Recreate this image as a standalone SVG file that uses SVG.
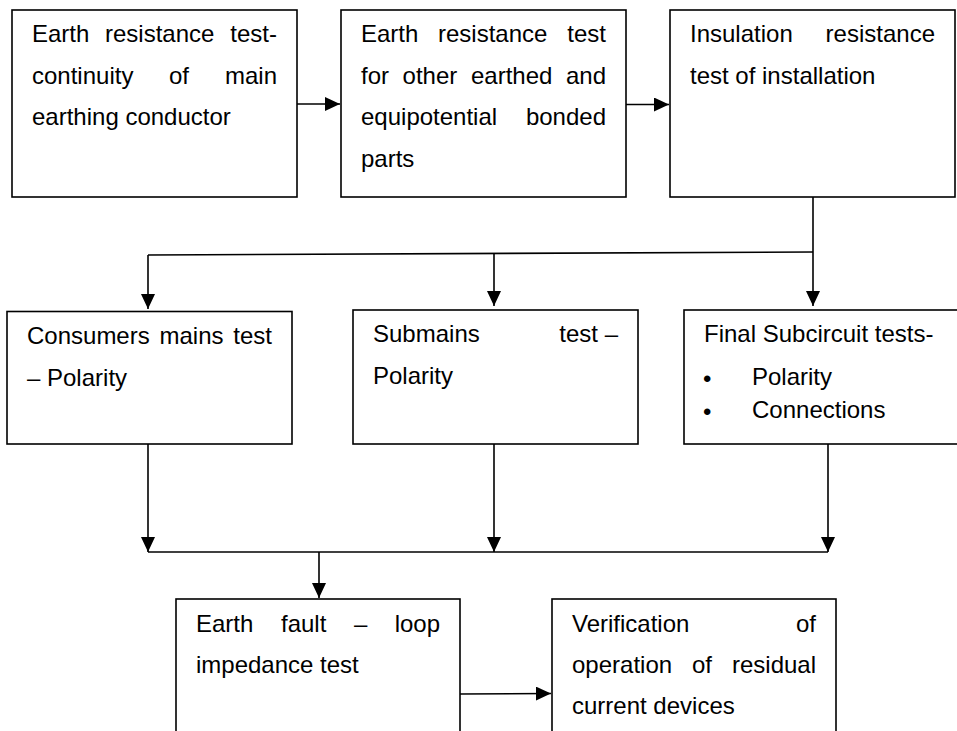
<svg xmlns="http://www.w3.org/2000/svg" width="957" height="731" viewBox="0 0 957 731">
<defs>
<marker id="ah" markerUnits="userSpaceOnUse" markerWidth="15" markerHeight="14" refX="15" refY="7" orient="auto">
<path d="M0,0 L15,7 L0,14 z" fill="#000"/>
</marker>
<style>
.box{fill:#fff;stroke:#000;stroke-width:1.6}
.t{font-family:"Liberation Sans",Arial,sans-serif;font-size:24px;fill:#000}
.c{fill:none;stroke:#000;stroke-width:1.6}
.a{marker-end:url(#ah)}
</style>
</defs>
<rect width="957" height="731" fill="#fff"/>
<g id="connectors">
<path class="c a" d="M297,104 H340"/>
<path class="c a" d="M626,104.5 H669"/>
<path class="c a" d="M813,197 V306"/>
<path class="c" d="M813,252 L148,255"/>
<path class="c a" d="M148,255 V309"/>
<path class="c a" d="M494,253.5 V306"/>
<path class="c a" d="M148,444 V552"/>
<path class="c a" d="M494,444 V552"/>
<path class="c a" d="M828,444 V552"/>
<path class="c" d="M148,552 H828"/>
<path class="c a" d="M319,552 V598"/>
<path class="c a" d="M460,694 L551,693.5"/>
</g>
<g id="n1">
<rect class="box" x="12" y="10" width="285" height="187"/>
<text class="t"><tspan x="32" y="42">Earth</tspan><tspan x="105" y="42">resistance</tspan><tspan x="277" y="42" text-anchor="end">test-</tspan><tspan x="32" y="83.5">continuity</tspan><tspan x="169" y="83.5">of</tspan><tspan x="277" y="83.5" text-anchor="end">main</tspan><tspan x="32" y="125">earthing conductor</tspan></text>
</g>
<g id="n2">
<rect class="box" x="341" y="10" width="285" height="187"/>
<text class="t"><tspan x="361" y="42">Earth</tspan><tspan x="438" y="42">resistance</tspan><tspan x="606" y="42" text-anchor="end">test</tspan><tspan x="361" y="83.5">for</tspan><tspan x="402.6" y="83.5">other</tspan><tspan x="471" y="83.5">earthed</tspan><tspan x="606" y="83.5" text-anchor="end">and</tspan><tspan x="361" y="125">equipotential</tspan><tspan x="606" y="125" text-anchor="end">bonded</tspan><tspan x="361" y="166.5">parts</tspan></text>
</g>
<g id="n3">
<rect class="box" x="670" y="10" width="285" height="187"/>
<text class="t"><tspan x="690" y="42">Insulation</tspan><tspan x="935" y="42" text-anchor="end">resistance</tspan><tspan x="690" y="83.5">test of installation</tspan></text>
</g>
<g id="n4">
<rect class="box" x="7" y="311.5" width="285" height="132.5"/>
<text class="t"><tspan x="27" y="343.5">Consumers</tspan><tspan x="159.5" y="343.5">mains</tspan><tspan x="272" y="343.5" text-anchor="end">test</tspan><tspan x="27" y="385.5">– Polarity</tspan></text>
</g>
<g id="n5">
<rect class="box" x="353" y="310" width="285" height="134"/>
<text class="t"><tspan x="373" y="342">Submains</tspan><tspan x="618" y="342" text-anchor="end">test –</tspan><tspan x="373" y="383.5">Polarity</tspan></text>
</g>
<g id="n6">
<rect class="box" x="684" y="310" width="290" height="134"/>
<text class="t"><tspan x="704" y="342">Final Subcircuit tests-</tspan><tspan x="703" y="387">•</tspan><tspan x="752" y="385">Polarity</tspan><tspan x="703" y="419.5">•</tspan><tspan x="752" y="417.5">Connections</tspan></text>
</g>
<g id="n7">
<rect class="box" x="176" y="599" width="284" height="150"/>
<text class="t"><tspan x="196" y="632">Earth</tspan><tspan x="281" y="632">fault</tspan><tspan x="354" y="632">–</tspan><tspan x="440" y="632" text-anchor="end">loop</tspan><tspan x="196" y="672.5">impedance test</tspan></text>
</g>
<g id="n8">
<rect class="box" x="552" y="599" width="284" height="150"/>
<text class="t"><tspan x="572" y="632">Verification</tspan><tspan x="816" y="632" text-anchor="end">of</tspan><tspan x="572" y="673">operation</tspan><tspan x="692" y="673">of</tspan><tspan x="816" y="673" text-anchor="end">residual</tspan><tspan x="572" y="713.5">current devices</tspan></text>
</g>
</svg>
